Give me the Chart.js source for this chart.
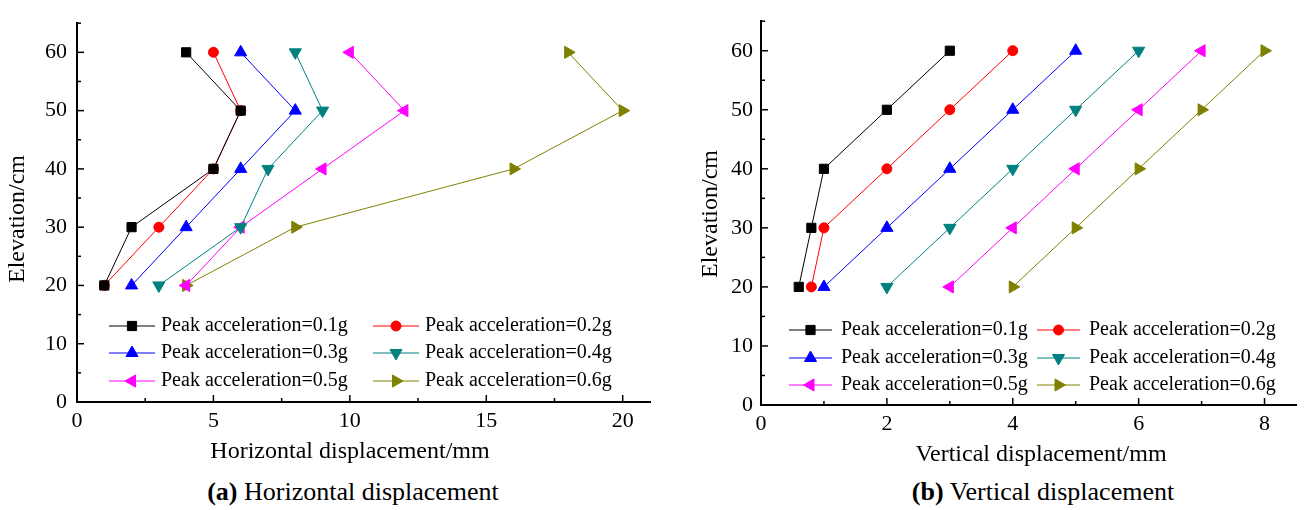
<!DOCTYPE html>
<html>
<head>
<meta charset="utf-8">
<script src="https://cdn.jsdelivr.net/npm/chart.js@4.4.1/dist/chart.umd.min.js"></script>
<style>
    body { margin: 0; width: 1304px; height: 510px; background: #fff; position: relative; overflow: hidden; font-family: "Liberation Serif", "Times New Roman", serif; }
    #wrap-a { position: absolute; left: 0; top: 0; width: 660px; height: 470px; }
    #wrap-b { position: absolute; left: 660px; top: 0; width: 644px; height: 470px; }
    .caption { position: absolute; top: 476px; font-size: 26px; line-height: 32px; color: #000; white-space: nowrap; transform: translateX(-50%); }
</style>
</head>
<body>
<div id="wrap-a"><canvas id="chart-horizontal" width="660" height="470"></canvas></div>
<div id="wrap-b"><canvas id="chart-vertical" width="644" height="470"></canvas></div>
<div class="caption" style="left:353px"><b>(a)</b> Horizontal displacement</div>
<div class="caption" style="left:1043px"><b>(b)</b> Vertical displacement</div>

<script>
// elevation of the measuring points (cm)
var elevation = [20, 30, 40, 50, 60];

var seriesNames = [
    'Peak acceleration=0.1g',
    'Peak acceleration=0.2g',
    'Peak acceleration=0.3g',
    'Peak acceleration=0.4g',
    'Peak acceleration=0.5g',
    'Peak acceleration=0.6g'
];

// horizontal displacement (mm), one value per elevation
var horiz01 = [1, 2, 5, 6, 4];
var horiz02 = [1, 3, 5, 6, 5];
var horiz03 = [2, 4, 6, 8, 6];
var horiz04 = [3, 6, 7, 9, 8];
var horiz05 = [4, 6, 9, 12, 10];
var horiz06 = [4, 8, 16, 20, 18];

// vertical displacement (mm)
var vert01 = [0.6, 0.8, 1, 2, 3];
var vert02 = [0.8, 1, 2, 3, 4];
var vert03 = [1, 2, 3, 4, 5];
var vert04 = [2, 3, 4, 5, 6];
var vert05 = [3, 4, 5, 6, 7];
var vert06 = [4, 5, 6, 7, 8];

// axis ranges / tick steps
var horizAxis = { min: 0, max: 21, step: 2.5, major: 5 };
var vertAxis = { min: 0, max: 8.5, step: 1, major: 2 };
var elevAxis = { min: 0, max: 65, step: 5, major: 10 };

var seriesColors = ['#000000', '#ff0000', '#0000ff', '#008080', '#ff00ff', '#808000'];
var markerStyles = ['rect', 'circle', 'triangle', 'triangle', 'triangle', 'triangle'];
var markerRotation = [0, 0, 0, 180, 270, 90];
var markerRadius = [6.5, 5, 7, 7, 7, 7];

var serifFamily = 'Liberation Serif';
Chart.defaults.font.family = serifFamily;
Chart.defaults.color = '#000';

function makeDatasets(valueLists) {
    var sets = [];
    for (let i = 0; i < valueLists.length; i++) {
        var vals = valueLists[i];
        sets.push({
            label: seriesNames[i],
            data: elevation.map((e, k) => ({ x: vals[k], y: e })),
            showLine: true,
            borderColor: seriesColors[i],
            backgroundColor: seriesColors[i],
            borderWidth: 1,
            pointStyle: markerStyles[i],
            rotation: markerRotation[i],
            pointRadius: markerRadius[i],
            pointHoverRadius: markerRadius[i],
            pointBorderWidth: 1,
            clip: false
        });
    }
    return sets;
}

// short inward ticks, long on major values (Origin style)
var inwardTicks = {
    id: 'inwardTicks',
    afterDraw(chart, args, opts) {
        var ctx = chart.ctx;
        var area = chart.chartArea;
        ctx.save();
        ctx.strokeStyle = '#000';
        ctx.lineWidth = 1.5;
        ['x', 'y'].forEach(id => {
            var scale = chart.scales[id];
            var major = opts[id];
            scale.ticks.forEach(t => {
                var p = scale.getPixelForValue(t.value);
                var r = t.value / major;
                var len = Math.abs(r - Math.round(r)) < 1e-6 ? 7 : 4;
                ctx.beginPath();
                if (id === 'x') {
                    ctx.moveTo(p, area.bottom);
                    ctx.lineTo(p, area.bottom - len);
                } else {
                    ctx.moveTo(area.left, p);
                    ctx.lineTo(area.left + len, p);
                }
                ctx.stroke();
            });
        });
        ctx.restore();
    }
};

// two-column legend inside the plot
var innerLegend = {
    id: 'innerLegend',
    afterDraw(chart, args, opts) {
        var ctx = chart.ctx;
        ctx.save();
        ctx.font = '20px "Liberation Serif"';
        ctx.textBaseline = 'middle';
        ctx.textAlign = 'left';
        chart.data.datasets.forEach((ds, i) => {
            var x0 = opts.cols[i % 2];
            var y = opts.rows[Math.floor(i / 2)];
            ctx.strokeStyle = ds.borderColor;
            ctx.fillStyle = ds.backgroundColor;
            ctx.lineWidth = 1;
            ctx.beginPath();
            ctx.moveTo(x0, y);
            ctx.lineTo(x0 + opts.lineLen, y);
            ctx.stroke();
            Chart.helpers.drawPoint(ctx, {
                pointStyle: ds.pointStyle,
                rotation: ds.rotation,
                radius: ds.pointRadius,
                borderWidth: 1
            }, x0 + opts.lineLen / 2, y);
            ctx.fillStyle = '#000';
            ctx.fillText(ds.label, x0 + opts.textGap, y);
        });
        ctx.restore();
    }
};

var axisTitles = {
    id: 'axisTitles',
    afterDraw(chart, args, opts) {
        var ctx = chart.ctx;
        ctx.save();
        ctx.font = '24px "Liberation Serif"';
        ctx.fillStyle = '#000';
        ctx.textAlign = 'center';
        ctx.textBaseline = 'middle';
        ctx.fillText(opts.xText, opts.xPos[0], opts.xPos[1]);
        ctx.translate(opts.yPos[0], opts.yPos[1]);
        ctx.rotate(-Math.PI / 2);
        ctx.fillText(opts.yText, 0, 0);
        ctx.restore();
    }
};

function buildChart(canvasId, valueLists, xAxis, pad, yWidth, xHeight, xLabelPad, yLabelPad, legendOpts, titleOpts) {
    var context = document.getElementById(canvasId).getContext('2d');
    return new Chart(context, {
        type: 'scatter',
        data: { datasets: makeDatasets(valueLists) },
        plugins: [inwardTicks, innerLegend, axisTitles],
        options: {
            responsive: false,
            animation: false,
            devicePixelRatio: 1,
            layout: { padding: pad },
            plugins: {
                legend: { display: false },
                tooltip: { enabled: false },
                inwardTicks: { x: xAxis.major, y: elevAxis.major },
                innerLegend: legendOpts,
                axisTitles: titleOpts
            },
            scales: {
                x: {
                    type: 'linear',
                    min: xAxis.min,
                    max: xAxis.max,
                    afterFit: s => { s.height = xHeight; },
                    grid: { display: true, drawOnChartArea: false, drawTicks: false },
                    border: { display: true, color: '#000', width: 2 },
                    ticks: {
                        stepSize: xAxis.step,
                        includeBounds: false,
                        autoSkip: false,
                        maxRotation: 0,
                        padding: xLabelPad,
                        color: '#000',
                        font: { family: serifFamily, size: 22 },
                        callback: v => {
                            var r = v / xAxis.major;
                            return Math.abs(r - Math.round(r)) < 1e-6 ? String(v) : '';
                        }
                    }
                },
                y: {
                    type: 'linear',
                    min: elevAxis.min,
                    max: elevAxis.max,
                    afterFit: s => { s.width = yWidth; },
                    grid: { display: true, drawOnChartArea: false, drawTicks: false },
                    border: { display: true, color: '#000', width: 2 },
                    ticks: {
                        stepSize: elevAxis.step,
                        includeBounds: false,
                        autoSkip: false,
                        padding: yLabelPad,
                        color: '#000',
                        font: { family: serifFamily, size: 22 },
                        callback: v => (v % elevAxis.major === 0 ? String(v) : '')
                    }
                }
            }
        }
    });
}

var chartHoriz = buildChart('chart-horizontal',
    [horiz01, horiz02, horiz03, horiz04, horiz05, horiz06],
    horizAxis,
    { left: 0, right: 10, top: 14, bottom: 0 },
    77, 68, 6, 10,
    { cols: [109, 373], rows: [326, 353, 381], lineLen: 46, textGap: 52 },
    { xText: 'Horizontal displacement/mm', xPos: [350, 452], yText: 'Elevation/cm', yPos: [18, 219] }
);

var chartVert = buildChart('chart-vertical',
    [vert01, vert02, vert03, vert04, vert05, vert06],
    vertAxis,
    { left: 0, right: 4, top: 3, bottom: 0 },
    101, 65, 6, 8,
    { cols: [129, 377], rows: [330, 358, 385], lineLen: 43, textGap: 52 },
    { xText: 'Vertical displacement/mm', xPos: [381, 455], yText: 'Elevation/cm', yPos: [51, 214] }
);
</script>
</body>
</html>
